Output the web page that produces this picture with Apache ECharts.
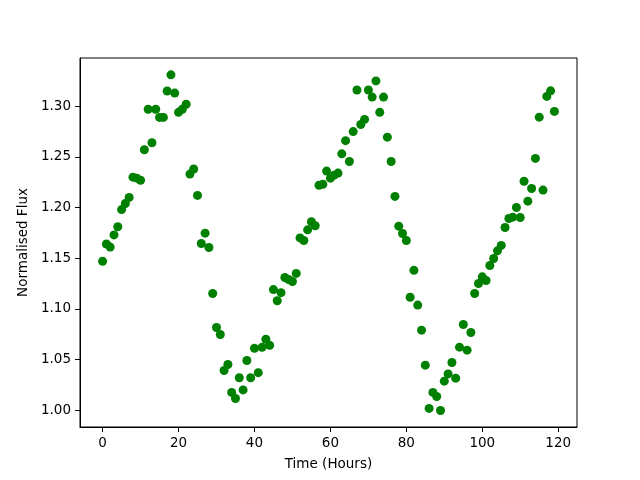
<!DOCTYPE html>
<html>
<head>
<meta charset="utf-8">
<script src="https://cdn.jsdelivr.net/npm/echarts@6/dist/echarts.min.js"></script>
<style>html,body{margin:0;padding:0;background:#fff}#c{width:640px;height:480px}</style>
</head>
<body>
<div id="c"></div>
<script>
const hours = [];
for (let i = 0; i < 120; i++) hours.push(i);
const flux = [
 1.147,1.164,1.161,1.173,1.181,1.198,1.204,1.210,1.230,1.229,
 1.227,1.257,1.297,1.264,1.297,1.289,1.289,1.315,1.331,1.313,
 1.294,1.297,1.302,1.233,1.238,1.212,1.1645,1.1747,1.1606,1.1152,
 1.0816,1.0747,1.0392,1.0451,1.0175,1.0115,1.032,1.020,1.049,1.032,
 1.061,1.037,1.062,1.070,1.064,1.119,1.108,1.116,1.131,1.129,
 1.127,1.135,1.170,1.1675,1.178,1.186,1.182,1.222,1.223,1.236,
 1.229,1.232,1.234,1.253,1.266,1.2455,1.275,1.316,1.282,1.287,
 1.316,1.309,1.325,1.294,1.309,1.2695,1.2455,1.211,1.1816,1.1744,
 1.1675,1.1115,1.138,1.1037,1.079,1.0444,1.0017,1.0175,1.0135,0.9997,
 1.0286,1.0358,1.047,1.0316,1.0622,1.0846,1.0592,1.0767,1.1152,1.125,
 1.1316,1.128,1.1428,1.1497,1.1573,1.1626,1.1803,1.1892,1.1905,1.2001,
 1.1902,1.226,1.2063,1.2188,1.2485,1.2892,1.2172,1.3097,1.3152,1.2949
];
const xTicks = [0,20,40,60,80,100,120];
const yTicks = [1.00,1.05,1.10,1.15,1.20,1.25,1.30];

const xMin = -5.95, xMax = 124.95;
const yMin = 0.98338, yMax = 1.34762;

const chart = echarts.init(document.getElementById('c'), null, {renderer:'canvas'});
const font = 'DejaVu Sans';
chart.setOption({
  animation: false,
  backgroundColor: '#fff',
  grid: {left: 80, right: 63, top: 58, bottom: 53, show: true, borderColor: '#000', borderWidth: 1, backgroundColor: 'transparent'},
  xAxis: {
    type: 'value', min: xMin, max: xMax,
    name: 'Time (Hours)', nameLocation: 'middle', nameGap: 30,
    nameTextStyle: {fontFamily: font, fontSize: 13.5, color: '#000'},
    axisLine: {show: true, onZero: false, lineStyle: {color: '#000', width: 1}},
    axisTick: {show: true, length: 5, customValues: xTicks, lineStyle: {color: '#000'}},
    axisLabel: {customValues: xTicks, fontFamily: font, fontSize: 13.5, color: '#000', margin: 9},
    splitLine: {show: false}
  },
  yAxis: {
    type: 'value', min: yMin, max: yMax,
    name: 'Normalised Flux', nameLocation: 'middle', nameGap: 44, nameRotate: 90,
    nameTextStyle: {fontFamily: font, fontSize: 13.5, color: '#000'},
    axisLine: {show: true, onZero: false, lineStyle: {color: '#000', width: 1}},
    axisTick: {show: true, length: 5, customValues: yTicks, lineStyle: {color: '#000'}},
    axisLabel: {customValues: yTicks, fontFamily: font, fontSize: 13.5, color: '#000', margin: 9,
      formatter: v => v.toFixed(2)},
    splitLine: {show: false}
  },
  series: [{
    type: 'scatter',
    data: hours.map((h, i) => [h, flux[i]]),
    symbol: 'circle',
    symbolSize: 9,
    itemStyle: {color: '#008000', opacity: 1},
    emphasis: {disabled: true}
  }]
});
</script>
</body>
</html>
